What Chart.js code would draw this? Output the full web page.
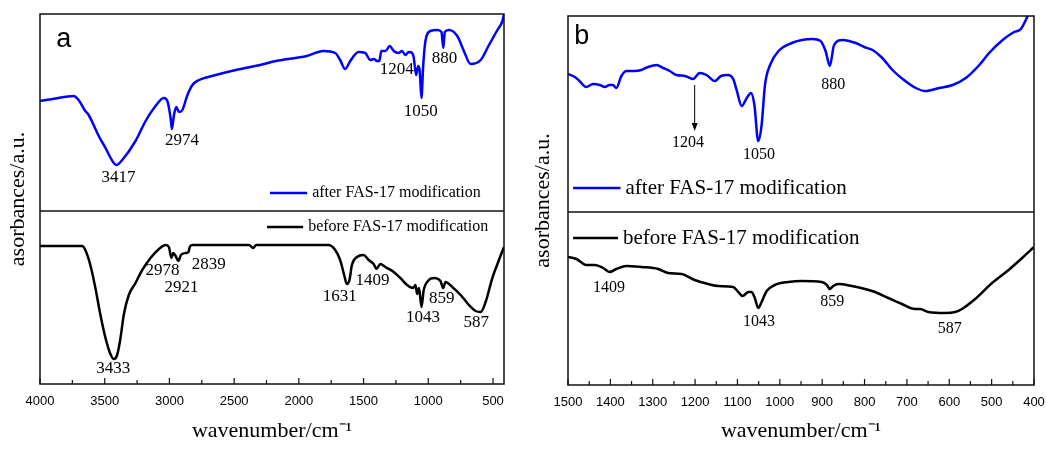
<!DOCTYPE html>
<html>
<head>
<meta charset="utf-8">
<script src="https://cdn.jsdelivr.net/npm/chart.js@4.4.0/dist/chart.umd.min.js"></script>
<style>
  html, body { margin: 0; padding: 0; background: #fff; }
  #wrap { position: relative; width: 1046px; height: 450px; }
  .panel { position: absolute; top: 0; width: 523px; height: 450px; }
</style>
</head>
<body>
<div id="wrap">
  <div class="panel" style="left:0"><canvas id="chartA"></canvas></div>
  <div class="panel" style="left:523px"><canvas id="chartB"></canvas></div>
</div>
<script>
// FTIR spectra, absorbance in arbitrary units (offset stacks)
// panel a: 4000-415 cm-1
const aAfterWn = [4000, 3900, 3740, 3702, 3650, 3624, 3546, 3494, 3430, 3409, 3365, 3262, 3184, 3107, 3043, 3016, 2991, 2981, 2965, 2947, 2926, 2900, 2861, 2822, 2771, 2642, 2487, 2300, 2177, 1939, 1810, 1719, 1681, 1642, 1603, 1539, 1487, 1448, 1420, 1396, 1378, 1363, 1330, 1298, 1267, 1229, 1203, 1177, 1151, 1125, 1113, 1094, 1078, 1066, 1053, 1039, 1022, 983, 931, 898, 884, 872, 841, 776, 725, 673, 595, 531, 466, 427, 415];
const aAfter = [283, 285, 288, 284, 273, 269, 248, 236, 221, 219, 224, 243, 263, 278, 286, 283, 266, 255, 269, 277, 272, 274, 289, 299, 304, 309, 314, 319, 323, 328, 333, 331, 324, 315, 323, 332, 331, 324, 325, 323, 323, 333, 333, 338, 333, 331, 333, 329, 332, 331, 327, 309, 318, 313, 286, 319, 343, 353, 354, 352, 336, 352, 354, 348, 333, 320, 324, 339, 354, 363, 370];

const aBeforeWn = [4000, 3800, 3675, 3650, 3611, 3572, 3533, 3494, 3456, 3430, 3404, 3378, 3353, 3314, 3262, 3210, 3146, 3081, 3029, 3004, 2985, 2970, 2952, 2931, 2911, 2874, 2853, 2843, 2822, 2384, 2353, 2330, 1771, 1719, 1681, 1650, 1629, 1609, 1590, 1551, 1500, 1461, 1422, 1401, 1370, 1332, 1267, 1216, 1164, 1117, 1099, 1086, 1071, 1053, 1035, 996, 957, 906, 885, 867, 815, 750, 686, 634, 595, 557, 505, 454, 415];
const aBefore = [138, 138, 138, 134, 119, 96, 69, 46, 30, 25, 29, 46, 69, 89, 101, 114, 126, 135, 139, 137, 126, 131, 128, 123, 129, 131, 132, 137, 139, 139, 136, 139, 139, 134, 124, 109, 100, 104, 119, 127, 129, 124, 120, 115, 120, 117, 112, 106, 99, 96, 99, 90, 96, 77, 94, 104, 106, 103, 96, 102, 97, 89, 79, 73, 72, 82, 106, 124, 137];

// panel b: 1500-400 cm-1
const bAfterWn = [1500, 1484, 1473, 1457, 1441, 1425, 1413, 1402, 1394, 1386, 1374, 1362, 1343, 1327, 1311, 1291, 1275, 1260, 1244, 1224, 1205, 1189, 1173, 1153, 1139, 1122, 1110, 1102, 1090, 1078, 1068, 1060, 1051, 1043, 1035, 1023, 1003, 972, 948, 923, 904, 892, 882, 872, 852, 821, 801, 781, 758, 734, 710, 679, 657, 624, 592, 561, 529, 506, 474, 447, 431, 415, 400];
const bAfter = [311, 308, 304, 298, 301, 300, 298, 300, 300, 297, 309, 314, 314, 315, 318, 320, 317, 314, 310, 309, 306, 312, 310, 304, 309, 310, 306, 295, 279, 287, 292, 280, 244, 260, 300, 320, 334, 342, 345, 346, 344, 334, 319, 340, 345, 342, 338, 335, 327, 315, 306, 297, 294, 297, 300, 307, 320, 332, 345, 353, 356, 369, 385];

const bBeforeWn = [1500, 1480, 1457, 1437, 1417, 1402, 1386, 1362, 1327, 1287, 1264, 1232, 1201, 1169, 1145, 1110, 1098, 1088, 1074, 1067, 1059, 1051, 1043, 1031, 1012, 980, 948, 901, 889, 882, 874, 862, 830, 799, 775, 744, 712, 681, 669, 649, 610, 586, 570, 539, 499, 460, 428, 400];
const bBefore = [128, 126, 120, 120, 117, 113, 116, 119, 118, 116, 112, 111, 105, 101, 99, 98, 93, 89, 93, 93, 87, 77, 83, 94, 100, 103, 104, 103, 100, 96, 99, 101, 99, 96, 93, 87, 81, 76, 76, 73, 72, 73, 76, 86, 102, 115, 127, 138];

// tick labels
const aTicks = [4000, 3500, 3000, 2500, 2000, 1500, 1000, 500];
const aMinor = [3750, 3250, 2750, 2250, 1750, 1250, 750];
const bTicks = [1500, 1400, 1300, 1200, 1100, 1000, 900, 800, 700, 600, 500, 400];
const bMinor = [1450, 1350, 1250, 1150, 1050, 950, 850, 750, 650, 550, 450];

// peak labels
const aPeakText = ['3417', '2974', '1204', '880', '1050', '3433', '2978', '2921', '2839', '1631', '1409', '1043', '859', '587'];
const bPeakText = ['1204', '1050', '880', '1409', '1043', '859', '587'];

const SERIF = '"Liberation Serif", "Times New Roman", serif';
const SANS = '"Liberation Sans", Arial, sans-serif';

function zip(xs, ys) {
  return xs.map((v, i) => ({x: v, y: ys[i]}));
}

function framePlugin(p) {
  return {
    id: 'frame',
    afterDatasetsDraw(chart) {
      const {ctx, chartArea: a} = chart;
      const X = v => chart.scales.x.getPixelForValue(v);
      const Y = v => chart.scales.y.getPixelForValue(v);
      ctx.save();
      ctx.strokeStyle = '#111';
      ctx.lineWidth = 1.5;
      ctx.strokeRect(a.left, a.top, a.right - a.left, a.bottom - a.top);
      ctx.beginPath();
      ctx.moveTo(a.left, Y(p.divider));
      ctx.lineTo(a.right, Y(p.divider));
      ctx.stroke();

      // inward tick marks
      ctx.lineWidth = 1.2;
      ctx.beginPath();
      p.major.forEach(v => { ctx.moveTo(X(v), a.bottom); ctx.lineTo(X(v), a.bottom - 6); });
      p.minor.forEach(v => { ctx.moveTo(X(v), a.bottom); ctx.lineTo(X(v), a.bottom - 4); });
      ctx.stroke();

      ctx.fillStyle = '#000';
      ctx.font = p.peakFont;
      ctx.textAlign = 'center';
      ctx.textBaseline = 'middle';
      p.peakText.forEach((t, i) => {
        const pos = p.peakPos[i];
        ctx.fillText(t, X(pos[0]), Y(pos[1]));
      });

      // legend inside each half
      chart.data.datasets.forEach((ds, i) => {
        const g = p.legend[i];
        ctx.strokeStyle = ds.borderColor;
        ctx.lineWidth = 2.5;
        ctx.beginPath();
        ctx.moveTo(X(g[0]), Y(g[2]));
        ctx.lineTo(X(g[1]), Y(g[2]));
        ctx.stroke();
        ctx.font = p.legendFont;
        ctx.textAlign = 'left';
        ctx.fillText(ds.label, X(g[1]) + 5, Y(g[2]));
      });

      ctx.font = '27px ' + SANS;
      ctx.textBaseline = 'alphabetic';
      ctx.fillText(p.letter, X(p.letterPos[0]), Y(p.letterPos[1]));

      if (p.arrow) {
        const ax = X(p.arrow[0]), y0 = Y(p.arrow[1]), y1 = Y(p.arrow[2]);
        ctx.strokeStyle = '#000';
        ctx.lineWidth = 1;
        ctx.beginPath();
        ctx.moveTo(ax, y0);
        ctx.lineTo(ax, y1 - 6);
        ctx.stroke();
        ctx.beginPath();
        ctx.moveTo(ax, y1);
        ctx.lineTo(ax - 3, y1 - 8);
        ctx.lineTo(ax + 3, y1 - 8);
        ctx.closePath();
        ctx.fill();
      }
      ctx.restore();
    }
  };
}

function makePanel(el, p) {
  const line = {pointRadius: 0, borderWidth: 2.5, cubicInterpolationMode: 'monotone', clip: 0, fill: false};
  return new Chart(el, {
    type: 'line',
    data: {
      datasets: [
        Object.assign({label: 'after FAS-17 modification', data: zip(p.afterWn, p.after), borderColor: '#0000ff'}, line),
        Object.assign({label: 'before FAS-17 modification', data: zip(p.beforeWn, p.before), borderColor: '#000000'}, line)
      ]
    },
    options: {
      responsive: true,
      maintainAspectRatio: false,
      animation: false,
      events: [],
      layout: {padding: p.padding},
      plugins: {legend: {display: false}, tooltip: {enabled: false}},
      scales: {
        x: {
          type: 'linear',
          reverse: true,
          min: p.xMin,
          max: p.xMax,
          grid: {display: false, drawTicks: false},
          border: {display: false},
          afterBuildTicks: s => { s.ticks = p.major.map(v => ({value: v})); },
          afterFit: s => { s.height = p.xHeight; s.paddingLeft = 0; s.paddingRight = 0; },
          ticks: {padding: 10, autoSkip: false, maxRotation: 0, color: '#000', font: {family: SANS, size: 13},
                  callback: v => String(v)},
          title: {display: true, text: 'wavenumber/cm\u207B\u00B9', color: '#000',
                  font: {family: SERIF, size: 22, lineHeight: 1}, padding: {top: 0, bottom: 8}}
        },
        y: {
          min: 0,
          max: p.yMax,
          grid: {display: false, drawTicks: false},
          border: {display: false},
          ticks: {display: false},
          afterFit: s => { s.width = p.yWidth; s.paddingTop = 0; s.paddingBottom = 0; },
          title: {display: true, text: 'asorbances/a.u.', color: '#000',
                  font: {family: SERIF, size: 22, lineHeight: 1}, padding: {top: p.yTitlePad, bottom: 0}}
        }
      }
    },
    plugins: [framePlugin(p)]
  });
}

makePanel(document.getElementById('chartA'), {
  afterWn: aAfterWn, after: aAfter, beforeWn: aBeforeWn, before: aBefore,
  xMin: 415, xMax: 4000, yMax: 370, divider: 173,
  major: aTicks, minor: aMinor,
  padding: {top: 14, right: 19, left: 0, bottom: 0},
  xHeight: 66, yWidth: 40, yTitlePad: 7,
  peakText: aPeakText,
  peakPos: [[3394, 206], [2903, 243], [1244, 314], [874, 325], [1058, 272], [3434, 15], [3053, 113], [2907, 96], [2696, 119], [1684, 87], [1431, 103], [1041, 66], [895, 85], [630, 61]],
  peakFont: '17px ' + SERIF,
  legend: [[2223, 1936, 191], [2246, 1967, 157]],
  legendFont: '16px ' + SERIF,
  letter: 'a', letterPos: [3874, 337]
});

makePanel(document.getElementById('chartB'), {
  afterWn: bAfterWn, after: bAfter, beforeWn: bBeforeWn, before: bBefore,
  xMin: 400, xMax: 1500, yMax: 369, divider: 173,
  major: bTicks, minor: bMinor,
  padding: {top: 16, right: 12, left: 0, bottom: 0},
  xHeight: 65, yWidth: 45, yTitlePad: 9,
  peakText: bPeakText,
  peakPos: [[1217, 242], [1049, 230], [874, 300], [1403, 97], [1049, 63], [876, 83], [599, 56]],
  peakFont: '16px ' + SERIF,
  legend: [[1488, 1376, 197], [1488, 1382, 147]],
  legendFont: '21px ' + SERIF,
  letter: 'b', letterPos: [1485, 341],
  arrow: [1201, 300, 254]
});
</script>
</body>
</html>
